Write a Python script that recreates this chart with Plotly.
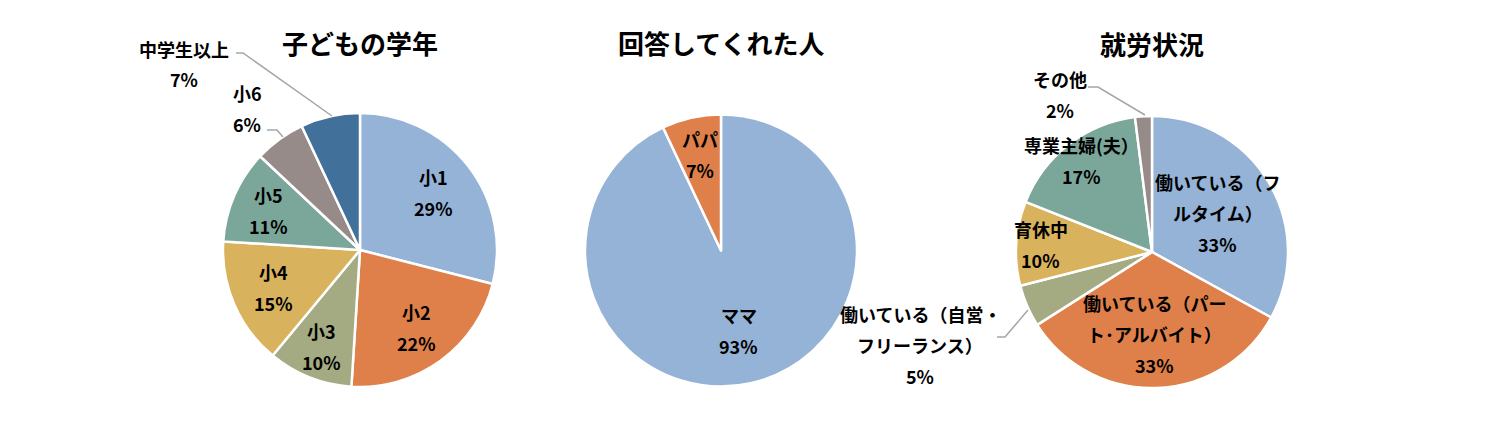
import math
import plotly.graph_objects as go

W, H = 1512, 434
OFF = 8  # the page body margin shifts the figure by this many pixels

grade_labels = ["小1", "小2", "小3", "小4", "小5", "小6", "中学生以上"]
grade_values = [29, 22, 10, 15, 11, 6, 7]

respondent_labels = ["ママ", "パパ"]
respondent_values = [93, 7]

work_labels = [
    "働いている（フルタイム）",
    "働いている（パート・アルバイト）",
    "働いている（自営・フリーランス）",
    "育休中",
    "専業主婦(夫）",
    "その他",
]
work_values = [33, 33, 5, 10, 17, 2]
# line breaks as in the original data labels
work_lines = [
    ["働いている（フ", "ルタイム）"],
    ["働いている（パー", "ト･アルバイト）"],
    ["働いている（自営・", "フリーランス）"],
    ["育休中"],
    ["専業主婦(夫）"],
    ["その他"],
]

colors = ["#95B3D7", "#DF804A", "#A4AB82", "#D8B25C", "#7BA79B", "#978B89", "#41709A"]
FONT = "Noto Sans CJK JP"
LINE = 31  # spacing of label lines, px

# pie geometry (centre x, centre y, radius, px)
pies = [(360, 250, 137), (721, 250.5, 136), (1152, 252, 136)]
# where each data label sits: a fraction of the radius, or None when placed outside
grade_label_r = [0.68, 0.70, 0.76, 0.69, 0.73, None, None]
respondent_label_r = [0.60, 0.72]
work_label_r = [0.56, 0.60, None, 0.82, 0.85, None]


def px(x, y):
    return (x - OFF) / W, 1 - (y - OFF) / H


def domain(cx, cy, r):
    x0, y1 = px(cx - r, cy - r)
    x1, y0 = px(cx + r, cy + r)
    return dict(x=[x0, x1], y=[y0, y1])


def text_block(lines, x, y, size=18):
    out = []
    for i, line in enumerate(lines):
        ax, ay = px(x, y + (i - (len(lines) - 1) / 2) * LINE)
        out.append(dict(text=f"<b>{line}</b>", x=ax, y=ay, xref="paper", yref="paper",
                        xanchor="center", yanchor="middle", showarrow=False,
                        font=dict(family=FONT, size=size, color="black")))
    return out


def slice_labels(values, lines, radii, geom):
    cx, cy, r = geom
    total = sum(values)
    out, cum = [], 0
    for v, ln, rr in zip(values, lines, radii):
        mid = (cum + v / 2) / total * 2 * math.pi
        cum += v
        if rr is None:
            continue
        x = cx + rr * r * math.sin(mid)
        y = cy - rr * r * math.cos(mid)
        out += text_block(ln + [f"{round(v / total * 100)}%"], x, y)
    return out


def pie(labels, values, geom):
    return go.Pie(
        labels=labels,
        values=values,
        textinfo="none",
        sort=False,
        direction="clockwise",
        marker=dict(colors=colors[: len(values)], line=dict(color="white", width=2.5)),
        domain=domain(*geom),
        showlegend=False,
        hoverinfo="label+percent",
    )


fig = go.Figure()
fig.add_trace(pie(grade_labels, grade_values, pies[0]))
fig.add_trace(pie(respondent_labels, respondent_values, pies[1]))
fig.add_trace(pie(work_labels, work_values, pies[2]))

annotations = []
for title, (x, y) in [("子どもの学年", (360, 42)), ("回答してくれた人", (721, 42)), ("就労状況", (1152, 44))]:
    annotations += text_block([title], x, y, size=26)

annotations += slice_labels(grade_values, [[g] for g in grade_labels], grade_label_r, pies[0])
annotations += slice_labels(respondent_values, [[g] for g in respondent_labels], respondent_label_r, pies[1])
annotations += slice_labels(work_values, work_lines, work_label_r, pies[2])

# labels that sit outside their slices, with elbow leader lines
outside = [
    ([grade_labels[6], f"{grade_values[6]}%"], (184, 64), [(236, 53), (243, 53), (332, 116)]),
    ([grade_labels[5], f"{grade_values[5]}%"], (247, 109), [(267, 130), (277, 130), (283, 137)]),
    (work_lines[5] + [f"{work_values[5]}%"], (1060, 94), [(1088, 87), (1098, 87), (1145, 115)]),
    (work_lines[2] + [f"{work_values[2]}%"], (920, 345), [(997, 337), (1005, 337), (1028, 310)]),
]
shapes = []
for lines, (x, y), leader in outside:
    annotations += text_block(lines, x, y)
    path = " L ".join("{:.5f},{:.5f}".format(*px(lx, ly)) for lx, ly in leader)
    shapes.append(dict(type="path", path="M " + path, xref="paper", yref="paper",
                       line=dict(color="#A6A6A6", width=1.5)))

fig.update_layout(
    width=W,
    height=H,
    margin=dict(l=0, r=0, t=0, b=0),
    paper_bgcolor="white",
    plot_bgcolor="white",
    font=dict(family=FONT),
    annotations=annotations,
    shapes=shapes,
)

fig.write_html("out.html")
